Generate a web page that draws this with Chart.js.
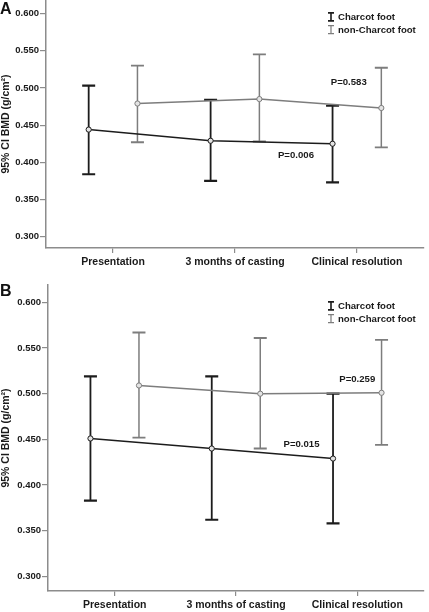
<!DOCTYPE html>
<html>
<head>
  <meta charset="utf-8" />
  <title>BMD Charcot foot</title>
  <script src="https://cdn.jsdelivr.net/npm/chart.js"></script>
  <style>
    body { margin: 0; background: #fff; width: 429px; height: 612px; position: relative; overflow: hidden; }
    canvas { position: absolute; left: 0; }
  </style>
</head>
<body>
  <canvas id="chartA" width="429" height="281" style="top:-6px"></canvas>
  <canvas id="chartB" width="429" height="332" style="top:280px"></canvas>

  <script>
    const categories = ['Presentation', '3 months of casting', 'Clinical resolution'];
    const yTicks = [0.30, 0.35, 0.40, 0.45, 0.50, 0.55, 0.60];
    const seriesNames = ['Charcot foot', 'non-Charcot foot'];

    // Panel A
    const charcotMeanA = [0.444, 0.429, 0.425];
    const charcotLowA = [0.384, 0.375, 0.373];
    const charcotHighA = [0.503, 0.484, 0.476];
    const nonCharcotMeanA = [0.479, 0.485, 0.473];
    const nonCharcotLowA = [0.427, 0.428, 0.420];
    const nonCharcotHighA = [0.530, 0.545, 0.527];
    const pLabelsA = ['P=0.006', 'P=0.583'];

    // Panel B
    const charcotMeanB = [0.451, 0.440, 0.429];
    const charcotLowB = [0.383, 0.362, 0.358];
    const charcotHighB = [0.519, 0.519, 0.500];
    const nonCharcotMeanB = [0.509, 0.500, 0.501];
    const nonCharcotLowB = [0.452, 0.440, 0.444];
    const nonCharcotHighB = [0.567, 0.561, 0.559];
    const pLabelsB = ['P=0.015', 'P=0.259'];

    const BLACK = '#1c1c1c';
    const GREY = '#7d7d7d';
    const AXIS = '#8c8c8c';
    const FONT = '"Liberation Sans", Arial, sans-serif';

    Chart.defaults.font.family = FONT;
    Chart.defaults.font.weight = 'bold';
    Chart.defaults.color = '#1a1a1a';

    // whiskers go under the lines, like in the original
    const errorBars = {
      id: 'errorBars',
      beforeDatasetsDraw(chart) {
        const { ctx, scales: { x, y } } = chart;
        chart.data.datasets.forEach(ds => {
          ctx.save();
          ctx.strokeStyle = ds.borderColor;
          ds.data.forEach((pt, i) => {
            const px = x.getPixelForValue(pt.x);
            const top = y.getPixelForValue(ds.high[i]);
            const bot = y.getPixelForValue(ds.low[i]);
            ctx.lineWidth = ds.whiskerWidth;
            ctx.beginPath();
            ctx.moveTo(px, top);
            ctx.lineTo(px, bot);
            ctx.stroke();
            ctx.lineWidth = ds.capWidth;
            ctx.beginPath();
            ctx.moveTo(px - 6.5, top); ctx.lineTo(px + 6.5, top);
            ctx.moveTo(px - 6.5, bot); ctx.lineTo(px + 6.5, bot);
            ctx.stroke();
          });
          ctx.restore();
        });
      }
    };

    // panel letter, legend and P values
    const extras = {
      id: 'extras',
      afterDraw(chart, args, opts) {
        const { ctx, chartArea, scales: { x, y } } = chart;
        ctx.save();
        ctx.fillStyle = '#111';
        ctx.font = 'bold 16px ' + FONT;
        ctx.textAlign = 'left';
        ctx.textBaseline = 'alphabetic';
        ctx.fillText(opts.letter, 0, opts.letterBaseline);

        // legend
        const ly = y.getPixelForValue(0.6) + 3.5;
        const lx = chartArea.right - 93;
        [BLACK, GREY].forEach((col, i) => {
          const cy = ly + i * 12.8;
          ctx.strokeStyle = col;
          ctx.lineWidth = i === 0 ? 1.6 : 1.2;
          ctx.beginPath();
          ctx.moveTo(lx, cy - 4); ctx.lineTo(lx, cy + 4);
          ctx.moveTo(lx - 3, cy - 4); ctx.lineTo(lx + 3, cy - 4);
          ctx.moveTo(lx - 3, cy + 4); ctx.lineTo(lx + 3, cy + 4);
          ctx.stroke();
          ctx.fillStyle = '#1a1a1a';
          ctx.font = 'bold 9.6px ' + FONT;
          ctx.textBaseline = 'middle';
          ctx.fillText(seriesNames[i], lx + 7, cy + 0.5);
        });

        // p values
        ctx.textAlign = 'center';
        ctx.textBaseline = 'middle';
        ctx.font = 'bold 9.6px ' + FONT;
        opts.notes.forEach(n => {
          ctx.fillText(n.text, x.getPixelForValue(n.x), y.getPixelForValue(n.y));
        });
        ctx.restore();
      }
    };

    function makeChart(id, cfg) {
      const ds = (label, mean, low, high, color, side, whisker, cap) => ({
        label: label,
        data: categories.map((c, i) => ({ x: i + side, y: mean[i] })),
        low: low,
        high: high,
        borderColor: color,
        borderWidth: 1.5,
        pointRadius: 2.6,
        pointBorderWidth: 1,
        pointBorderColor: color,
        pointBackgroundColor: '#e4e4e4',
        whiskerWidth: whisker,
        capWidth: cap,
        tension: 0
      });

      return new Chart(document.getElementById(id), {
        type: 'line',
        data: {
          datasets: [
            ds(seriesNames[0], cfg.charcotMean, cfg.charcotLow, cfg.charcotHigh, BLACK, -0.2, 1.8, 2.2),
            ds(seriesNames[1], cfg.nonMean, cfg.nonLow, cfg.nonHigh, GREY, 0.2, 1.5, 1.8)
          ]
        },
        options: {
          responsive: false,
          animation: false,
          events: [],
          layout: { padding: { top: cfg.padTop, right: 1, bottom: 0, left: 0 } },
          plugins: {
            legend: { display: false },
            tooltip: { enabled: false },
            extras: { letter: cfg.letter, letterBaseline: cfg.letterBaseline, notes: cfg.notes }
          },
          scales: {
            x: {
              type: 'linear',
              min: -0.55,
              max: 2.55,
              afterBuildTicks: s => { s.ticks = categories.map((c, i) => ({ value: i })); },
              afterFit: s => { s.height = cfg.xHeight; s.paddingLeft = 0; s.paddingRight = 0; },
              ticks: {
                callback: v => categories[v],
                autoSkip: false,
                maxRotation: 0,
                padding: 3,
                font: { size: 10.5, weight: 'bold' }
              },
              grid: { drawOnChartArea: false, drawTicks: true, tickLength: 5, color: AXIS, lineWidth: 1.2 },
              border: { color: AXIS, width: 1.5 }
            },
            y: {
              min: cfg.yMin,
              max: cfg.yMax,
              afterBuildTicks: s => { s.ticks = yTicks.map(v => ({ value: v })); },
              afterFit: s => { s.width = cfg.yWidth; s.paddingTop = 0; s.paddingBottom = 0; },
              ticks: {
                callback: v => v.toFixed(3),
                padding: 1,
                font: { size: 9.5, weight: 'bold' }
              },
              title: {
                display: true,
                text: '95% CI BMD (g/cm²)',
                padding: { top: 0, bottom: 0 },
                font: { size: 10.5, weight: 'bold' }
              },
              grid: { drawOnChartArea: false, drawTicks: true, tickLength: 6, color: AXIS, lineWidth: 1.2 },
              border: { color: AXIS, width: 1.5 }
            }
          }
        },
        plugins: [errorBars, extras]
      });
    }

    makeChart('chartA', {
      letter: 'A', letterBaseline: 20,
      charcotMean: charcotMeanA, charcotLow: charcotLowA, charcotHigh: charcotHighA,
      nonMean: nonCharcotMeanA, nonLow: nonCharcotLowA, nonHigh: nonCharcotHighA,
      yMin: 0.285, yMax: 0.618, padTop: 6, xHeight: 27, yWidth: 46,
      notes: [
        { text: pLabelsA[0], x: 1.5, y: 0.4097 },
        { text: pLabelsA[1], x: 1.933, y: 0.5078 }
      ]
    });

    makeChart('chartB', {
      letter: 'B', letterBaseline: 16,
      charcotMean: charcotMeanB, charcotLow: charcotLowB, charcotHigh: charcotHighB,
      nonMean: nonCharcotMeanB, nonLow: nonCharcotLowB, nonHigh: nonCharcotHighB,
      yMin: 0.284, yMax: 0.619, padTop: 5, xHeight: 21, yWidth: 48,
      notes: [
        { text: pLabelsB[0], x: 1.54, y: 0.4445 },
        { text: pLabelsB[1], x: 2.0, y: 0.5153 }
      ]
    });
  </script>
</body>
</html>
